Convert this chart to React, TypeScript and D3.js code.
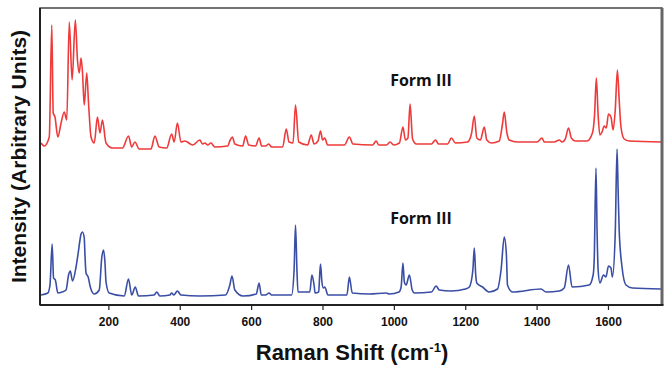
import React from 'react';
import * as d3 from 'd3';

// Raman shift (cm-1) and intensity (arbitrary units, top trace includes its offset)
const redShift = [10, 19, 33, 40, 44, 49, 57, 66, 75, 82, 89, 97, 106, 112, 117, 122, 126, 131, 138, 143, 150, 159, 168, 175, 182, 192, 210, 238, 255, 264, 273, 285, 318, 329, 341, 362, 376, 383, 392, 402, 413, 435, 455, 462, 469, 477, 486, 497, 533, 540, 546, 553, 575, 583, 592, 611, 621, 628, 639, 648, 656, 687, 697, 705, 716, 723, 732, 757, 767, 775, 786, 793, 799, 805, 813, 860, 874, 884, 939, 949, 956, 978, 988, 998, 1014, 1024, 1031, 1038, 1044, 1051, 1062, 1104, 1115, 1124, 1149, 1160, 1171, 1205, 1216, 1224, 1231, 1241, 1252, 1259, 1272, 1294, 1303, 1308, 1315, 1322, 1345, 1400, 1414, 1420, 1448, 1462, 1470, 1479, 1488, 1496, 1507, 1540, 1555, 1561, 1566, 1571, 1576, 1582, 1588, 1594, 1600, 1607, 1613, 1619, 1625, 1630, 1635, 1644, 1658, 1748];
const redIntensity = [162, 159, 168, 280, 192, 188, 168, 182, 193, 185, 283, 225, 285, 245, 232, 247, 233, 200, 232, 202, 168, 162, 188, 172, 185, 162, 157, 157, 169, 158, 163, 156, 156, 169, 158, 157, 171, 163, 182, 163, 164, 160, 165, 161, 162, 160, 162, 158, 159, 165, 168, 161, 159, 169, 160, 159, 167, 159, 159, 161, 158, 158, 176, 163, 162, 200, 163, 160, 170, 161, 164, 174, 165, 167, 160, 160, 168, 161, 160, 164, 160, 160, 163, 160, 162, 178, 165, 167, 201, 166, 161, 161, 165, 161, 161, 167, 162, 163, 171, 189, 167, 165, 178, 165, 162, 164, 181, 193, 173, 165, 163, 163, 167, 163, 163, 165, 163, 166, 177, 167, 164, 164, 172, 190, 227, 190, 170, 173, 179, 177, 191, 188, 175, 195, 235, 205, 178, 166, 164, 163];

const blueShift = [10, 29, 35, 41, 45, 50, 57, 69, 80, 87, 92, 98, 108, 114, 119, 122, 126, 131, 133, 136, 142, 148, 159, 173, 180, 185, 189, 192, 201, 243, 255, 264, 274, 283, 327, 334, 343, 371, 376, 382, 392, 402, 455, 527, 539, 545, 553, 576, 613, 621, 627, 639, 649, 656, 712, 719, 723, 727, 730, 763, 769, 775, 778, 788, 790, 793, 797, 801, 805, 814, 867, 874, 882, 930, 977, 986, 1013, 1019, 1024, 1028, 1033, 1042, 1050, 1056, 1104, 1117, 1126, 1159, 1199, 1210, 1220, 1224, 1228, 1231, 1247, 1266, 1289, 1299, 1308, 1314, 1317, 1331, 1411, 1425, 1462, 1476, 1488, 1498, 1546, 1557, 1560, 1565, 1568, 1571, 1576, 1586, 1593, 1600, 1607, 1611, 1619, 1624, 1627, 1630, 1638, 1649, 1667, 1747];
const blueIntensity = [10, 12, 20, 61, 27, 25, 12, 13, 15, 30, 34, 24, 38, 52, 65, 71, 73, 67, 50, 32, 28, 18, 11, 15, 47, 55, 43, 23, 12, 9, 26, 10, 18, 9, 10, 13, 9, 10, 12, 10, 14, 10, 9, 10, 20, 29, 15, 9, 11, 22, 10, 10, 12, 10, 10, 35, 80, 35, 13, 13, 30, 20, 12, 13, 25, 41, 23, 17, 18, 10, 10, 28, 12, 11, 12, 11, 13, 18, 42, 23, 20, 30, 15, 12, 13, 19, 15, 14, 16, 18, 35, 57, 30, 22, 18, 13, 16, 35, 68, 50, 20, 13, 16, 13, 14, 17, 40, 18, 20, 30, 45, 137, 75, 35, 22, 30, 28, 39, 37, 28, 72, 156, 115, 75, 38, 20, 17, 16];

const tickValues = [200, 400, 600, 800, 1000, 1200, 1400, 1600];
const tickLabels = ['200', '400', '600', '800', '1000', '1200', '1400', '1600'];

const seriesLabels = ['Form III', 'Form III'];

const W = 667;
const H = 370;
const left = 40;
const right = 662;
const top = 8;
const bottom = 305;
const font = '"Liberation Sans", Arial, sans-serif';

export default function App() {
  const x = d3.scaleLinear().domain([7, 1750]).range([left, right]);
  const y = d3.scaleLinear().domain([0, 297]).range([bottom, top]);

  const line = d3.line<[number, number]>()
    .x(d => x(d[0]))
    .y(d => y(d[1]))
    .curve(d3.curveMonotoneX);

  const red = redShift.map((s, i) => [s, redIntensity[i]] as [number, number]);
  const blue = blueShift.map((s, i) => [s, blueIntensity[i]] as [number, number]);

  return (
    <svg width={W} height={H} style={{ position: 'absolute', left: 0, top: 0, background: '#fff' }}>
      <defs>
        <clipPath id="plot">
          <rect x={left} y={top} width={right - left} height={bottom - top} />
        </clipPath>
      </defs>

      <g clipPath="url(#plot)">
        <path d={line(red) || ''} fill="none" stroke="#ee3a3a" strokeWidth={1.6} strokeLinejoin="round" />
        <path d={line(blue) || ''} fill="none" stroke="#3a4ea5" strokeWidth={1.6} strokeLinejoin="round" />
      </g>

      {/* frame */}
      <rect x={left} y={top} width={right - left} height={bottom - top} fill="none" stroke="#444" strokeWidth={1.5} />
      <line x1={right} x2={right} y1={top} y2={bottom} stroke="#666" strokeWidth={3} />
      <line x1={left} x2={left} y1={top} y2={bottom} stroke="#222" strokeWidth={2} />
      <line x1={left} x2={right + 1.5} y1={bottom} y2={bottom} stroke="#222" strokeWidth={2} />

      {tickValues.map((t, i) => (
        <g key={t} transform={`translate(${x(t)},0)`}>
          <line y1={bottom} y2={bottom + 5} stroke="#222" strokeWidth={1.2} />
          <text y={bottom + 21} textAnchor="middle" fontFamily={font} fontWeight="bold" fontSize={12} fill="#111">
            {tickLabels[i]}
          </text>
        </g>
      ))}

      <text x={421} y={86} textAnchor="middle" fontFamily='"Open Sans", sans-serif' fontWeight="bold" fontSize={16} fill="#111">
        {seriesLabels[0]}
      </text>
      <text x={421} y={224} textAnchor="middle" fontFamily='"Open Sans", sans-serif' fontWeight="bold" fontSize={16} fill="#111">
        {seriesLabels[1]}
      </text>

      <text x={352} y={360} textAnchor="middle" fontFamily={font} fontWeight="bold" fontSize={22} fill="#111">
        Raman Shift (cm<tspan dy={-8} fontSize={13}>-1</tspan><tspan dy={8}>)</tspan>
      </text>
      <text transform={`translate(26,${(top + bottom) / 2}) rotate(-90)`} textAnchor="middle" fontFamily={font} fontWeight="bold" fontSize={21} fill="#111">
        Intensity (Arbitrary Units)
      </text>
    </svg>
  );
}
